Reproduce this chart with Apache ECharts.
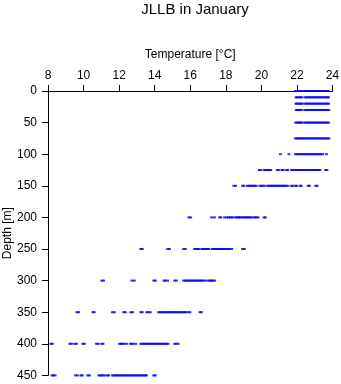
<!DOCTYPE html>
<html>
<head>
<meta charset="utf-8">
<script src="https://cdn.jsdelivr.net/npm/echarts@6/dist/echarts.min.js"></script>
<style>
html,body{margin:0;padding:0;background:#fff;}
#chart{width:341px;height:384px;}
</style>
</head>
<body>
<div id="chart"></div>
<script>
// Depth levels [m]
const depths = [0, 10, 20, 30, 50, 75, 100, 125, 150, 200, 250, 300, 350, 400, 450];

// Temperatures [°C] observed at each depth level
const t0   = [21.93,21.98,22.04,22.1,22.16,22.22,22.27,22.42,22.5,22.58,22.66,22.74,22.82,22.9,22.98,23.06,23.14,23.22,23.3,23.38,23.46,23.54,23.62,23.7,23.76];
const t10  = [21.95,22.02,22.1,22.2,22.26,22.44,22.52,22.6,22.68,22.76,22.84,22.92,23.0,23.08,23.16,23.24,23.32,23.4,23.48,23.56,23.64,23.72,23.77];
const t20  = [21.94,22.0,22.08,22.16,22.24,22.27,22.43,22.51,22.59,22.67,22.75,22.83,22.91,22.99,23.07,23.15,23.23,23.31,23.39,23.47,23.55,23.63,23.71,23.78];
const t30  = [21.96,22.03,22.1,22.17,22.25,22.44,22.52,22.6,22.68,22.76,22.84,22.92,23.0,23.08,23.16,23.24,23.32,23.4,23.48,23.56,23.64,23.72,23.79];
const t50  = [21.93,22.0,22.08,22.15,22.22,22.27,22.42,22.5,22.58,22.66,22.74,22.82,22.9,22.98,23.06,23.14,23.22,23.3,23.38,23.46,23.54,23.62,23.7,23.78];
const t75  = [21.92,21.99,22.06,22.13,22.2,22.28,22.35,22.43,22.51,22.59,22.67,22.75,22.83,22.91,22.99,23.07,23.15,23.23,23.31,23.39,23.47,23.55,23.63,23.71,23.8];
const t100 = [21.07,21.55,21.92,22.0,22.08,22.16,22.24,22.32,22.4,22.48,22.56,22.64,22.72,22.8,22.88,22.96,23.04,23.12,23.2,23.28,23.36,23.44,23.66];
const t125 = [19.88,19.95,20.15,20.23,20.3,20.38,20.46,20.52,20.9,20.98,21.17,21.22,21.42,21.48,21.7,21.78,21.86,21.94,22.02,22.1,22.18,22.26,22.34,22.42,22.5,22.58,22.66,22.74,22.82,22.9,22.98,23.06,23.14,23.22,23.28,23.62,23.68];
const t150 = [18.45,18.55,18.95,19.02,19.22,19.3,19.38,19.46,19.54,19.62,19.72,19.92,20.0,20.08,20.18,20.35,20.43,20.51,20.59,20.67,20.75,20.83,20.91,20.99,21.07,21.15,21.23,21.31,21.39,21.5,21.7,21.75,21.92,21.98,22.18,22.24,22.63,22.7,23.06,23.13];
const t200 = [15.92,16.02,17.2,17.36,17.66,17.72,17.93,18.04,18.15,18.23,18.31,18.4,18.55,18.63,18.71,18.78,18.85,18.95,19.03,19.11,19.19,19.27,19.35,19.43,19.55,19.65,19.72,19.82,20.15,20.22];
const t250 = [13.22,13.3,14.73,14.83,15.63,15.72,16.25,16.33,16.41,16.48,16.65,16.73,16.81,16.89,16.97,17.05,17.25,17.33,17.41,17.49,17.57,17.65,17.73,17.81,17.89,17.95,18.05,18.13,18.21,18.33,18.95,19.04];
const t300 = [11.03,11.12,12.72,12.85,13.95,14.04,14.53,14.6,14.72,15.13,15.22,15.63,15.71,15.79,15.87,15.95,16.03,16.11,16.19,16.27,16.35,16.43,16.51,16.59,16.67,16.75,16.88,17.03,17.11,17.19,17.27,17.37];
const t350 = [9.63,9.72,10.53,10.6,11.63,11.73,12.26,12.35,12.66,12.75,13.22,13.3,13.56,13.63,13.75,14.23,14.31,14.39,14.47,14.55,14.63,14.71,14.79,14.87,14.95,15.03,15.11,15.19,15.27,15.35,15.43,15.51,15.59,15.67,15.74,15.88,15.98,16.55,16.62];
const t400 = [8.16,8.24,9.23,9.32,9.5,9.6,9.96,10.04,10.73,10.83,11.03,11.09,12.03,12.11,12.19,12.27,12.41,12.63,12.71,12.79,12.93,13.22,13.3,13.38,13.46,13.54,13.62,13.7,13.78,13.86,13.94,14.02,14.1,14.18,14.26,14.34,14.42,14.5,14.58,14.66,14.75,15.13,15.22,15.32];
const t450 = [8.23,8.3,8.4,9.55,9.65,9.85,9.93,10.23,10.33,10.86,10.94,11.02,11.1,11.2,11.35,11.42,11.63,11.71,11.79,11.87,11.95,12.03,12.11,12.19,12.27,12.35,12.43,12.51,12.59,12.67,12.75,12.83,12.91,12.99,13.07,13.15,13.23,13.31,13.39,13.47,13.53,13.95,14.03];

const tempsByDepth = [t0, t10, t20, t30, t50, t75, t100, t125, t150, t200, t250, t300, t350, t400, t450];

// Axis ticks
const xTicks = [8, 10, 12, 14, 16, 18, 20, 22, 24];
const yTicks = [0, 50, 100, 150, 200, 250, 300, 350, 400, 450];

const points = [];
depths.forEach((d, i) => {
  tempsByDepth[i].forEach(t => points.push([t, d]));
});

const FONT = 'Liberation Sans';
const chart = echarts.init(document.getElementById('chart'), null, {renderer: 'canvas'});
chart.setOption({
  animation: false,
  backgroundColor: '#ffffff',
  title: {
    text: 'JLLB in January',
    left: 190,
    top: -3,
    textAlign: 'center',
    textStyle: {fontFamily: FONT, fontSize: 15, fontWeight: 'normal', color: '#000'}
  },
  grid: {left: 48, top: 91, right: 8.5, bottom: 8.6, containLabel: false, outerBoundsMode: 'none'},
  xAxis: {
    type: 'value',
    position: 'top',
    min: xTicks[0],
    max: xTicks[xTicks.length - 1],
    interval: 2,
    name: 'Temperature [°C]',
    nameLocation: 'middle',
    nameGap: 30,
    nameMoveOverlap: false,
    nameTextStyle: {fontFamily: FONT, fontSize: 12, color: '#000'},
    axisLine: {show: true, lineStyle: {color: '#000', width: 1}},
    axisTick: {show: true, length: 6, lineStyle: {color: '#000'}},
    axisLabel: {fontFamily: FONT, fontSize: 12, color: '#000', margin: 9},
    splitLine: {show: false}
  },
  yAxis: {
    type: 'value',
    inverse: true,
    min: yTicks[0],
    max: yTicks[yTicks.length - 1],
    interval: 50,
    name: 'Depth [m]',
    nameLocation: 'middle',
    nameGap: 34,
    nameMoveOverlap: false,
    nameTextStyle: {fontFamily: FONT, fontSize: 12, color: '#000'},
    axisLine: {show: true, lineStyle: {color: '#000', width: 1}},
    axisTick: {show: true, length: 6, lineStyle: {color: '#000'}},
    axisLabel: {fontFamily: FONT, fontSize: 12, color: '#000', margin: 11},
    splitLine: {show: false}
  },
  series: [{
    type: 'scatter',
    data: points,
    symbol: 'rect',
    symbolSize: [3, 2],
    itemStyle: {color: '#0000ff'},
    clip: false
  }]
});
</script>
</body>
</html>
